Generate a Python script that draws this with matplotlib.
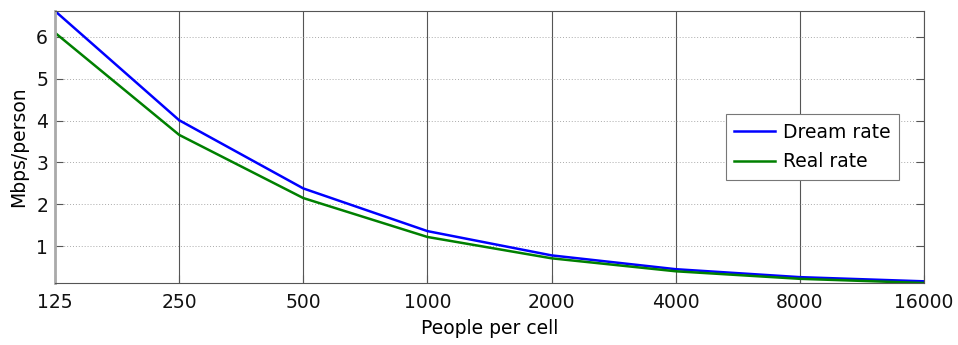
import matplotlib
matplotlib.use("Agg")
import matplotlib.pyplot as plt
from matplotlib.ticker import FixedLocator, FixedFormatter, NullLocator

# data
people = [125, 250, 500, 1000, 2000, 4000, 8000, 16000]
dream_rate = [6.62, 4.01, 2.38, 1.36, 0.78, 0.45, 0.26, 0.16]
real_rate = [6.10, 3.66, 2.15, 1.22, 0.71, 0.40, 0.22, 0.12]
x_labels = ['125', '250', '500', '1000', '2000', '4000', '8000', '16000']
y_ticks = [1, 2, 3, 4, 5, 6]

plt.rcParams['font.family'] = 'DejaVu Sans'
plt.rcParams['font.size'] = 13.5

fig = plt.figure(figsize=(9.58, 3.45), dpi=100)
ax = fig.add_axes([55 / 958, 1 - 283 / 345, 869 / 958, 272 / 345])

ax.plot(people, dream_rate, color=(0, 0, 1), lw=1.8, label='Dream rate')
ax.plot(people, real_rate, color=(0, 0.5, 0), lw=1.8, label='Real rate')

ax.set_xscale('log', base=2)
ax.set_xlim(people[0], people[-1])
ax.set_ylim(real_rate[-1], dream_rate[0])
ax.xaxis.set_major_locator(FixedLocator(people))
ax.xaxis.set_major_formatter(FixedFormatter(x_labels))
ax.xaxis.set_minor_locator(NullLocator())
ax.set_yticks(y_ticks)

# MATLAB-like grid: solid vertical, dotted horizontal
ax.grid(axis='x', color='#555555', linestyle='-', linewidth=0.8)
ax.grid(axis='y', color='#aaaaaa', linestyle=(0, (1, 2)), linewidth=0.7)
ax.set_axisbelow(True)

for s in ax.spines.values():
    s.set_color('#555555')
    s.set_linewidth(0.8)
ax.spines['left'].set_color('#aaaaaa')
ax.spines['left'].set_linewidth(2)

ax.tick_params(direction='in', length=6, color='#555555', top=False, right=True,
               labelsize=13.5, labelcolor='#111111')
ax.tick_params(axis='x', pad=7)
ax.tick_params(axis='y', pad=5)

ax.set_xlabel('People per cell', fontsize=13.5, labelpad=5)
ax.set_ylabel('Mbps/person', fontsize=13.5, labelpad=6)

leg = ax.legend(loc='center right', bbox_to_anchor=(0.971, 0.5), borderaxespad=0,
                fancybox=False, edgecolor='#777777', framealpha=1, handlelength=2.2,
                fontsize=13.5, borderpad=0.45, labelspacing=0.55, handletextpad=0.4)
leg.get_frame().set_linewidth(0.8)

fig.savefig('out.png', dpi=100)
